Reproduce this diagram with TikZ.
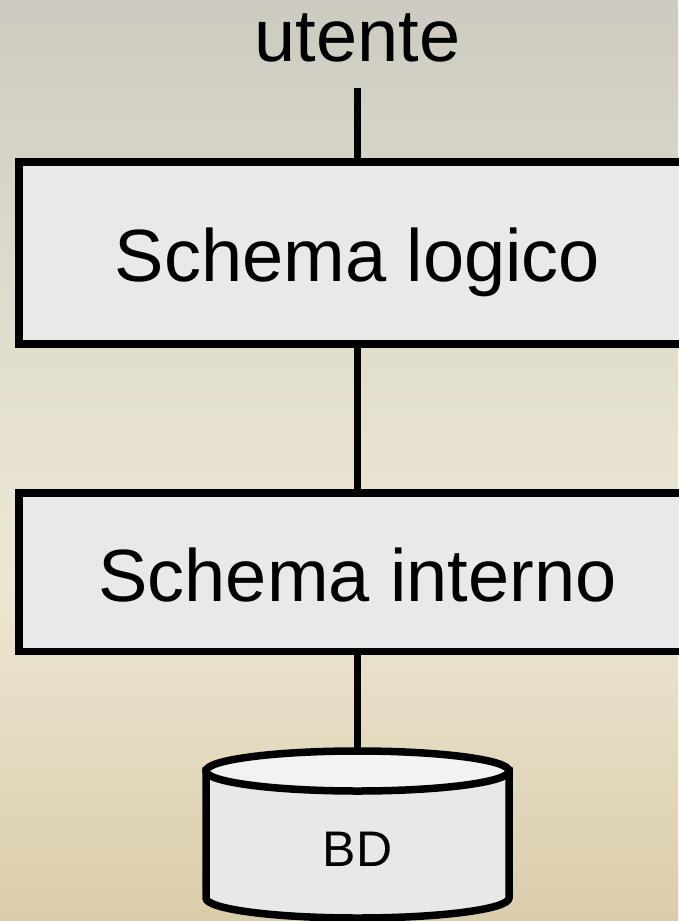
\documentclass[tikz,border=0pt]{standalone}
\usepackage{fontspec}
\setmainfont{Liberation Sans}
\definecolor{bgtop}{HTML}{CDCAC1}
\definecolor{bgup}{HTML}{DEDBCC}
\definecolor{bgmid}{HTML}{EDE6D3}
\definecolor{bgbot}{HTML}{DACDAB}
\definecolor{boxfill}{HTML}{E9E9E9}
\definecolor{cylbody}{HTML}{E8E8E8}
\definecolor{cyltop}{HTML}{F2F2F2}
\pgfdeclareverticalshading{slidebg}{100bp}{color(0bp)=(bgbot); color(25bp)=(bgbot); color(43.5bp)=(bgmid); color(60bp)=(bgup); color(75bp)=(bgtop); color(100bp)=(bgtop)}
\begin{document}
\begin{tikzpicture}[x=1pt,y=1pt,
  box/.style={draw=black, line width=7.5pt, fill=boxfill, minimum width=677pt, minimum height=#1, inner sep=0pt, outer sep=0pt},
  lbl/.style={font=\fontsize{74}{80}\selectfont, inner sep=0pt, anchor=base},
  conn/.style={line width=7.5pt, draw=black},
  cyl/.style={line width=7.5pt, draw=black}]
\useasboundingbox (0,0) rectangle (678,-921);
\shade[shading=slidebg] (0,0) rectangle (678,-921);
% nodes
\node[lbl] (utente) at (357.5,-61) {utente};
\node[box=182pt] (logico) at (357.5,-253) {};
\node[lbl] (tlogico) at (357.5,-281) {Schema logico};
\node[box=158.5pt] (interno) at (357.5,-572.25) {};
\node[lbl] (tinterno) at (357.5,-601) {Schema interno};
\coordinate (dbtop) at (357.5,-751);
% connectors
\draw[conn] ([yshift=-27pt]utente.base) -- (logico.north);
\draw[conn] (logico.south) -- (interno.north);
\draw[conn] (interno.south) -- (dbtop);
% database cylinder
\filldraw[cyl, fill=cylbody] (206,-771) -- (206,-898)
  arc[start angle=180, end angle=360, x radius=151.5, y radius=20] -- (509,-771) -- cycle;
\filldraw[cyl, fill=cyltop] (357.5,-771) ellipse[x radius=151.5, y radius=20];
\node[font=\fontsize{50}{56}\selectfont, inner sep=0pt, anchor=base] (bd) at (357.5,-866.7) {BD};
\end{tikzpicture}
\end{document}
